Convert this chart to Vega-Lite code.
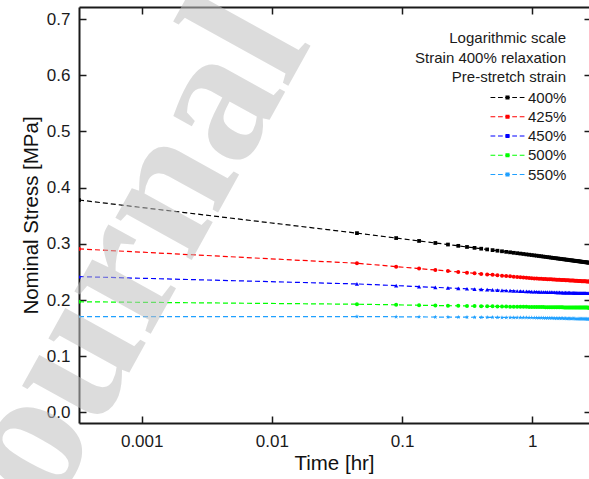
{
  "$schema": "https://vega.github.io/schema/vega-lite/v6.json",
  "autosize": "none",
  "padding": {"left": 79, "top": 7, "right": 0, "bottom": 56},
  "width": 510,
  "height": 416,
  "background": "white",
  "config": {
    "view": {"stroke": null},
    "font": "Liberation Sans",
    "axis": {
      "grid": false,
      "labelFont": "Liberation Sans",
      "titleFont": "Liberation Sans",
      "labelColor": "#1a1a1a",
      "titleColor": "#111111",
      "domainColor": "#1a1a1a",
      "tickColor": "#1a1a1a",
      "titleFontWeight": "normal",
      "labelFontSize": 17,
      "titleFontSize": 20.5,
      "domainWidth": 2,
      "tickWidth": 1.5
    }
  },
  "datasets": {
    "curves": [
      {"s":"400%","t":0.00033,"v":0.378},
      {"s":"400%","t":0.045,"v":0.3191},{"s":"400%","t":0.09,"v":0.3103},{"s":"400%","t":0.135,"v":0.3052},{"s":"400%","t":0.18,"v":0.3016},{"s":"400%","t":0.225,"v":0.2988},{"s":"400%","t":0.27,"v":0.2965},{"s":"400%","t":0.315,"v":0.2945},{"s":"400%","t":0.36,"v":0.2929},{"s":"400%","t":0.405,"v":0.2914},{"s":"400%","t":0.45,"v":0.2901},
      {"s":"400%","t":0.495,"v":0.2889},{"s":"400%","t":0.54,"v":0.2878},{"s":"400%","t":0.585,"v":0.2868},{"s":"400%","t":0.63,"v":0.2858},{"s":"400%","t":0.675,"v":0.285},{"s":"400%","t":0.72,"v":0.2841},{"s":"400%","t":0.765,"v":0.2834},{"s":"400%","t":0.81,"v":0.2827},{"s":"400%","t":0.855,"v":0.282},{"s":"400%","t":0.9,"v":0.2813},
      {"s":"400%","t":0.945,"v":0.2807},{"s":"400%","t":0.99,"v":0.2801},{"s":"400%","t":1.035,"v":0.2795},{"s":"400%","t":1.08,"v":0.279},{"s":"400%","t":1.125,"v":0.2784},{"s":"400%","t":1.17,"v":0.2779},{"s":"400%","t":1.215,"v":0.2774},{"s":"400%","t":1.26,"v":0.2769},{"s":"400%","t":1.305,"v":0.2764},{"s":"400%","t":1.35,"v":0.276},
      {"s":"400%","t":1.395,"v":0.2755},{"s":"400%","t":1.44,"v":0.2751},{"s":"400%","t":1.485,"v":0.2747},{"s":"400%","t":1.53,"v":0.2743},{"s":"400%","t":1.575,"v":0.2739},{"s":"400%","t":1.62,"v":0.2735},{"s":"400%","t":1.665,"v":0.2731},{"s":"400%","t":1.71,"v":0.2728},{"s":"400%","t":1.755,"v":0.2724},{"s":"400%","t":1.8,"v":0.2721},
      {"s":"400%","t":1.845,"v":0.2718},{"s":"400%","t":1.89,"v":0.2714},{"s":"400%","t":1.935,"v":0.2711},{"s":"400%","t":1.98,"v":0.2708},{"s":"400%","t":2.025,"v":0.2705},{"s":"400%","t":2.07,"v":0.2702},{"s":"400%","t":2.115,"v":0.2699},{"s":"400%","t":2.16,"v":0.2696},{"s":"400%","t":2.205,"v":0.2694},{"s":"400%","t":2.25,"v":0.2691},
      {"s":"400%","t":2.295,"v":0.2688},{"s":"400%","t":2.34,"v":0.2686},{"s":"400%","t":2.385,"v":0.2683},{"s":"400%","t":2.43,"v":0.268},{"s":"400%","t":2.475,"v":0.2678},{"s":"400%","t":2.52,"v":0.2676},{"s":"400%","t":2.565,"v":0.2673},{"s":"400%","t":2.61,"v":0.2671},{"s":"400%","t":2.655,"v":0.2669},{"s":"400%","t":2.7,"v":0.2666},{"s":"400%","t":2.745,"v":0.2664},

      {"s":"425%","t":0.00033,"v":0.291},
      {"s":"425%","t":0.045,"v":0.2655},{"s":"425%","t":0.09,"v":0.2595},{"s":"425%","t":0.135,"v":0.256},{"s":"425%","t":0.18,"v":0.2536},{"s":"425%","t":0.225,"v":0.2516},{"s":"425%","t":0.27,"v":0.2501},{"s":"425%","t":0.315,"v":0.2487},{"s":"425%","t":0.36,"v":0.2476},{"s":"425%","t":0.405,"v":0.2466},{"s":"425%","t":0.45,"v":0.2457},
      {"s":"425%","t":0.495,"v":0.2449},{"s":"425%","t":0.54,"v":0.2441},{"s":"425%","t":0.585,"v":0.2434},{"s":"425%","t":0.63,"v":0.2428},{"s":"425%","t":0.675,"v":0.2422},{"s":"425%","t":0.72,"v":0.2416},{"s":"425%","t":0.765,"v":0.2411},{"s":"425%","t":0.81,"v":0.2406},{"s":"425%","t":0.855,"v":0.2402},{"s":"425%","t":0.9,"v":0.2397},
      {"s":"425%","t":0.945,"v":0.2393},{"s":"425%","t":0.99,"v":0.2389},{"s":"425%","t":1.035,"v":0.2386},{"s":"425%","t":1.08,"v":0.2384},{"s":"425%","t":1.125,"v":0.2381},{"s":"425%","t":1.17,"v":0.2379},{"s":"425%","t":1.215,"v":0.2377},{"s":"425%","t":1.26,"v":0.2375},{"s":"425%","t":1.305,"v":0.2372},{"s":"425%","t":1.35,"v":0.2371},
      {"s":"425%","t":1.395,"v":0.2369},{"s":"425%","t":1.44,"v":0.2367},{"s":"425%","t":1.485,"v":0.2365},{"s":"425%","t":1.53,"v":0.2363},{"s":"425%","t":1.575,"v":0.2362},{"s":"425%","t":1.62,"v":0.236},{"s":"425%","t":1.665,"v":0.2358},{"s":"425%","t":1.71,"v":0.2357},{"s":"425%","t":1.755,"v":0.2355},{"s":"425%","t":1.8,"v":0.2354},
      {"s":"425%","t":1.845,"v":0.2352},{"s":"425%","t":1.89,"v":0.2351},{"s":"425%","t":1.935,"v":0.235},{"s":"425%","t":1.98,"v":0.2348},{"s":"425%","t":2.025,"v":0.2347},{"s":"425%","t":2.07,"v":0.2346},{"s":"425%","t":2.115,"v":0.2344},{"s":"425%","t":2.16,"v":0.2343},{"s":"425%","t":2.205,"v":0.2342},{"s":"425%","t":2.25,"v":0.2341},
      {"s":"425%","t":2.295,"v":0.234},{"s":"425%","t":2.34,"v":0.2339},{"s":"425%","t":2.385,"v":0.2337},{"s":"425%","t":2.43,"v":0.2336},{"s":"425%","t":2.475,"v":0.2335},{"s":"425%","t":2.52,"v":0.2334},{"s":"425%","t":2.565,"v":0.2333},{"s":"425%","t":2.61,"v":0.2332},{"s":"425%","t":2.655,"v":0.2331},{"s":"425%","t":2.7,"v":0.233},{"s":"425%","t":2.745,"v":0.2329},

      {"s":"450%","t":0.00033,"v":0.2417},
      {"s":"450%","t":0.045,"v":0.2287},{"s":"450%","t":0.09,"v":0.2257},{"s":"450%","t":0.135,"v":0.2239},{"s":"450%","t":0.18,"v":0.2226},{"s":"450%","t":0.225,"v":0.2216},{"s":"450%","t":0.27,"v":0.2208},{"s":"450%","t":0.315,"v":0.2201},{"s":"450%","t":0.36,"v":0.2195},{"s":"450%","t":0.405,"v":0.219},{"s":"450%","t":0.45,"v":0.2185},
      {"s":"450%","t":0.495,"v":0.2181},{"s":"450%","t":0.54,"v":0.2177},{"s":"450%","t":0.585,"v":0.2174},{"s":"450%","t":0.63,"v":0.217},{"s":"450%","t":0.675,"v":0.2167},{"s":"450%","t":0.72,"v":0.2165},{"s":"450%","t":0.765,"v":0.2162},{"s":"450%","t":0.81,"v":0.2159},{"s":"450%","t":0.855,"v":0.2157},{"s":"450%","t":0.9,"v":0.2155},
      {"s":"450%","t":0.945,"v":0.2153},{"s":"450%","t":0.99,"v":0.215},{"s":"450%","t":1.035,"v":0.2149},{"s":"450%","t":1.08,"v":0.2148},{"s":"450%","t":1.125,"v":0.2147},{"s":"450%","t":1.17,"v":0.2145},{"s":"450%","t":1.215,"v":0.2144},{"s":"450%","t":1.26,"v":0.2143},{"s":"450%","t":1.305,"v":0.2142},{"s":"450%","t":1.35,"v":0.2141},
      {"s":"450%","t":1.395,"v":0.214},{"s":"450%","t":1.44,"v":0.2139},{"s":"450%","t":1.485,"v":0.2139},{"s":"450%","t":1.53,"v":0.2138},{"s":"450%","t":1.575,"v":0.2137},{"s":"450%","t":1.62,"v":0.2136},{"s":"450%","t":1.665,"v":0.2135},{"s":"450%","t":1.71,"v":0.2134},{"s":"450%","t":1.755,"v":0.2134},{"s":"450%","t":1.8,"v":0.2133},
      {"s":"450%","t":1.845,"v":0.2132},{"s":"450%","t":1.89,"v":0.2132},{"s":"450%","t":1.935,"v":0.2131},{"s":"450%","t":1.98,"v":0.213},{"s":"450%","t":2.025,"v":0.213},{"s":"450%","t":2.07,"v":0.2129},{"s":"450%","t":2.115,"v":0.2128},{"s":"450%","t":2.16,"v":0.2128},{"s":"450%","t":2.205,"v":0.2127},{"s":"450%","t":2.25,"v":0.2126},
      {"s":"450%","t":2.295,"v":0.2126},{"s":"450%","t":2.34,"v":0.2125},{"s":"450%","t":2.385,"v":0.2125},{"s":"450%","t":2.43,"v":0.2124},{"s":"450%","t":2.475,"v":0.2124},{"s":"450%","t":2.52,"v":0.2123},{"s":"450%","t":2.565,"v":0.2123},{"s":"450%","t":2.61,"v":0.2122},{"s":"450%","t":2.655,"v":0.2122},{"s":"450%","t":2.7,"v":0.2121},{"s":"450%","t":2.745,"v":0.2121},

      {"s":"500%","t":0.00033,"v":0.197},
      {"s":"500%","t":0.045,"v":0.1926},{"s":"500%","t":0.09,"v":0.1915},{"s":"500%","t":0.135,"v":0.1908},{"s":"500%","t":0.18,"v":0.1904},{"s":"500%","t":0.225,"v":0.19},{"s":"500%","t":0.27,"v":0.1898},{"s":"500%","t":0.315,"v":0.1895},{"s":"500%","t":0.36,"v":0.1893},{"s":"500%","t":0.405,"v":0.1891},{"s":"500%","t":0.45,"v":0.189},
      {"s":"500%","t":0.495,"v":0.1888},{"s":"500%","t":0.54,"v":0.1887},{"s":"500%","t":0.585,"v":0.1885},{"s":"500%","t":0.63,"v":0.1884},{"s":"500%","t":0.675,"v":0.1883},{"s":"500%","t":0.72,"v":0.1882},{"s":"500%","t":0.765,"v":0.1881},{"s":"500%","t":0.81,"v":0.188},{"s":"500%","t":0.855,"v":0.188},{"s":"500%","t":0.9,"v":0.1879},
      {"s":"500%","t":0.945,"v":0.1878},{"s":"500%","t":0.99,"v":0.1877},{"s":"500%","t":1.035,"v":0.1877},{"s":"500%","t":1.08,"v":0.1876},{"s":"500%","t":1.125,"v":0.1876},{"s":"500%","t":1.17,"v":0.1875},{"s":"500%","t":1.215,"v":0.1875},{"s":"500%","t":1.26,"v":0.1874},{"s":"500%","t":1.305,"v":0.1874},{"s":"500%","t":1.35,"v":0.1873},
      {"s":"500%","t":1.395,"v":0.1873},{"s":"500%","t":1.44,"v":0.1873},{"s":"500%","t":1.485,"v":0.1872},{"s":"500%","t":1.53,"v":0.1872},{"s":"500%","t":1.575,"v":0.1872},{"s":"500%","t":1.62,"v":0.1871},{"s":"500%","t":1.665,"v":0.1871},{"s":"500%","t":1.71,"v":0.1871},{"s":"500%","t":1.755,"v":0.187},{"s":"500%","t":1.8,"v":0.187},
      {"s":"500%","t":1.845,"v":0.187},{"s":"500%","t":1.89,"v":0.187},{"s":"500%","t":1.935,"v":0.1869},{"s":"500%","t":1.98,"v":0.1869},{"s":"500%","t":2.025,"v":0.1869},{"s":"500%","t":2.07,"v":0.1868},{"s":"500%","t":2.115,"v":0.1868},{"s":"500%","t":2.16,"v":0.1868},{"s":"500%","t":2.205,"v":0.1868},{"s":"500%","t":2.25,"v":0.1867},
      {"s":"500%","t":2.295,"v":0.1867},{"s":"500%","t":2.34,"v":0.1867},{"s":"500%","t":2.385,"v":0.1867},{"s":"500%","t":2.43,"v":0.1867},{"s":"500%","t":2.475,"v":0.1866},{"s":"500%","t":2.52,"v":0.1866},{"s":"500%","t":2.565,"v":0.1866},{"s":"500%","t":2.61,"v":0.1866},{"s":"500%","t":2.655,"v":0.1866},{"s":"500%","t":2.7,"v":0.1865},{"s":"500%","t":2.745,"v":0.1865},

      {"s":"550%","t":0.00033,"v":0.1705},
      {"s":"550%","t":0.045,"v":0.1707},{"s":"550%","t":0.09,"v":0.1703},{"s":"550%","t":0.135,"v":0.17},{"s":"550%","t":0.18,"v":0.1698},{"s":"550%","t":0.225,"v":0.1697},{"s":"550%","t":0.27,"v":0.1696},{"s":"550%","t":0.315,"v":0.1695},{"s":"550%","t":0.36,"v":0.1694},{"s":"550%","t":0.405,"v":0.1693},{"s":"550%","t":0.45,"v":0.1692},
      {"s":"550%","t":0.495,"v":0.1692},{"s":"550%","t":0.54,"v":0.1691},{"s":"550%","t":0.585,"v":0.169},{"s":"550%","t":0.63,"v":0.169},{"s":"550%","t":0.675,"v":0.169},{"s":"550%","t":0.72,"v":0.1689},{"s":"550%","t":0.765,"v":0.1689},{"s":"550%","t":0.81,"v":0.1688},{"s":"550%","t":0.855,"v":0.1688},{"s":"550%","t":0.9,"v":0.1688},
      {"s":"550%","t":0.945,"v":0.1687},{"s":"550%","t":0.99,"v":0.1687},{"s":"550%","t":1.035,"v":0.1686},{"s":"550%","t":1.08,"v":0.1685},{"s":"550%","t":1.125,"v":0.1684},{"s":"550%","t":1.17,"v":0.1683},{"s":"550%","t":1.215,"v":0.1682},{"s":"550%","t":1.26,"v":0.1681},{"s":"550%","t":1.305,"v":0.1681},{"s":"550%","t":1.35,"v":0.168},
      {"s":"550%","t":1.395,"v":0.1679},{"s":"550%","t":1.44,"v":0.1678},{"s":"550%","t":1.485,"v":0.1677},{"s":"550%","t":1.53,"v":0.1677},{"s":"550%","t":1.575,"v":0.1676},{"s":"550%","t":1.62,"v":0.1675},{"s":"550%","t":1.665,"v":0.1675},{"s":"550%","t":1.71,"v":0.1674},{"s":"550%","t":1.755,"v":0.1673},{"s":"550%","t":1.8,"v":0.1673},
      {"s":"550%","t":1.845,"v":0.1672},{"s":"550%","t":1.89,"v":0.1672},{"s":"550%","t":1.935,"v":0.1671},{"s":"550%","t":1.98,"v":0.167},{"s":"550%","t":2.025,"v":0.167},{"s":"550%","t":2.07,"v":0.1669},{"s":"550%","t":2.115,"v":0.1669},{"s":"550%","t":2.16,"v":0.1668},{"s":"550%","t":2.205,"v":0.1668},{"s":"550%","t":2.25,"v":0.1667},
      {"s":"550%","t":2.295,"v":0.1667},{"s":"550%","t":2.34,"v":0.1666},{"s":"550%","t":2.385,"v":0.1666},{"s":"550%","t":2.43,"v":0.1665},{"s":"550%","t":2.475,"v":0.1665},{"s":"550%","t":2.52,"v":0.1665},{"s":"550%","t":2.565,"v":0.1664},{"s":"550%","t":2.61,"v":0.1664},{"s":"550%","t":2.655,"v":0.1663},{"s":"550%","t":2.7,"v":0.1663},{"s":"550%","t":2.745,"v":0.1662}
    ],
    "watermark": [
      {"label": "Journal Pre-proof", "t": 0.0000891, "v": -0.3282}
    ]
  },
  "resolve": {"axis": {"x": "independent", "y": "independent"}},
  "layer": [
    {
      "data": {"name": "curves"},
      "mark": {"type": "line", "strokeWidth": 1.2, "strokeDash": [5, 3], "clip": true},
      "encoding": {
        "x": {
          "field": "t", "type": "quantitative",
          "scale": {"type": "log", "domain": [0.00033, 2.725], "nice": false},
          "axis": {"orient": "bottom", "values": [0.001, 0.01, 0.1, 1], "format": "~g", "tickSize": -7, "labelPadding": 17, "title": "Time [hr]", "titlePadding": 4}
        },
        "y": {
          "field": "v", "type": "quantitative",
          "scale": {"domain": [-0.0187, 0.7214], "nice": false, "zero": false},
          "axis": {"orient": "left", "values": [0, 0.1, 0.2, 0.3, 0.4, 0.5, 0.6, 0.7], "format": ".1f", "tickSize": -7, "labelPadding": 16, "title": "Nominal Stress [MPa]", "titlePadding": 5}
        },
        "color": {
          "field": "s", "type": "nominal",
          "scale": {"domain": ["400%", "425%", "450%", "500%", "550%"], "range": ["#000000", "#ff0000", "#0000ff", "#00ff00", "#1fa0ff"]},
          "legend": {
            "orient": "none",
            "legendX": 332,
            "legendY": 24,
            "title": ["Logarithmic scale", "Strain 400% relaxation", "Pre-stretch strain"],
            "titleFont": "Liberation Sans",
            "titleFontSize": 15,
            "titleFontWeight": "normal",
            "titleColor": "#1a1a1a",
            "titleAlign": "right",
            "titleAnchor": "end",
            "titleLineHeight": 19.5,
            "titlePadding": 5,
            "labelFont": "Liberation Sans",
            "labelFontSize": 15,
            "labelColor": "#1a1a1a",
            "labelOffset": 13,
            "rowPadding": 3.25,
            "symbolOffset": 89,
            "symbolType": "M-3,-0.105H-2.16V0.105H-3Z M-1.68,-0.105H-0.84V0.105H-1.68Z M-0.42,-0.105H0.42V0.105H-0.42Z M-0.36,-0.36H0.36V0.36H-0.36Z M0.84,-0.105H1.68V0.105H0.84Z M2.16,-0.105H3V0.105H2.16Z",
            "symbolSize": 128,
            "symbolStrokeWidth": 0,
            "encode": {
              "symbols": {"update": {
                "fill": {"scale": "color", "field": "value"},
                "stroke": {"value": "transparent"},
                "strokeWidth": {"value": 0}
              }}
            }
          }
        }
      }
    },
    {
      "data": {"name": "curves"},
      "transform": [{"filter": "datum.s === '400%'"}],
      "mark": {"type": "point", "shape": "square", "filled": true, "size": 14, "opacity": 1, "clip": true, "color": "#000000"},
      "encoding": {
        "x": {
          "field": "t", "type": "quantitative",
          "scale": {"type": "log", "domain": [0.00033, 2.725], "nice": false},
          "axis": {"orient": "top", "values": [0.001, 0.01, 0.1, 1], "labels": false, "tickSize": -7, "title": null}
        },
        "y": {
          "field": "v", "type": "quantitative",
          "scale": {"domain": [-0.0187, 0.7214], "nice": false, "zero": false},
          "axis": {"orient": "right", "values": [0, 0.1, 0.2, 0.3, 0.4, 0.5, 0.6, 0.7], "labels": false, "domain": false, "tickSize": -5, "title": null}
        }
      }
    },
    {
      "data": {"name": "curves"},
      "transform": [{"filter": "datum.s === '425%'"}],
      "mark": {"type": "point", "shape": "circle", "filled": true, "size": 16, "opacity": 1, "clip": true, "color": "#ff0000"},
      "encoding": {
        "x": {"field": "t", "type": "quantitative", "axis": null},
        "y": {"field": "v", "type": "quantitative", "axis": null}
      }
    },
    {
      "data": {"name": "curves"},
      "transform": [{"filter": "datum.s === '450%'"}],
      "mark": {"type": "point", "shape": "triangle-up", "filled": true, "size": 18, "opacity": 1, "clip": true, "color": "#0000ff"},
      "encoding": {
        "x": {"field": "t", "type": "quantitative", "axis": null},
        "y": {"field": "v", "type": "quantitative", "axis": null}
      }
    },
    {
      "data": {"name": "curves"},
      "transform": [{"filter": "datum.s === '500%'"}],
      "mark": {"type": "point", "shape": "circle", "filled": true, "size": 16, "opacity": 1, "clip": true, "color": "#00ff00"},
      "encoding": {
        "x": {"field": "t", "type": "quantitative", "axis": null},
        "y": {"field": "v", "type": "quantitative", "axis": null}
      }
    },
    {
      "data": {"name": "curves"},
      "transform": [{"filter": "datum.s === '550%'"}],
      "mark": {"type": "point", "shape": "M0,-1L0.24,-0.33L0.95,-0.31L0.39,0.12L0.59,0.81L0,0.4L-0.59,0.81L-0.39,0.12L-0.95,-0.31L-0.24,-0.33Z", "filled": true, "size": 22, "opacity": 1, "clip": true, "color": "#1fa0ff"},
      "encoding": {
        "x": {"field": "t", "type": "quantitative", "axis": null},
        "y": {"field": "v", "type": "quantitative", "axis": null}
      }
    },
    {
      "data": {"name": "watermark"},
      "mark": {"type": "text", "angle": -61, "align": "left", "baseline": "alphabetic", "font": "Liberation Serif", "fontWeight": "bold", "fontSize": 190, "fill": "#c0c0c0", "opacity": 0.55, "clip": false},
      "encoding": {
        "x": {"field": "t", "type": "quantitative", "axis": null},
        "y": {"field": "v", "type": "quantitative", "axis": null},
        "text": {"field": "label"}
      }
    }
  ]
}
